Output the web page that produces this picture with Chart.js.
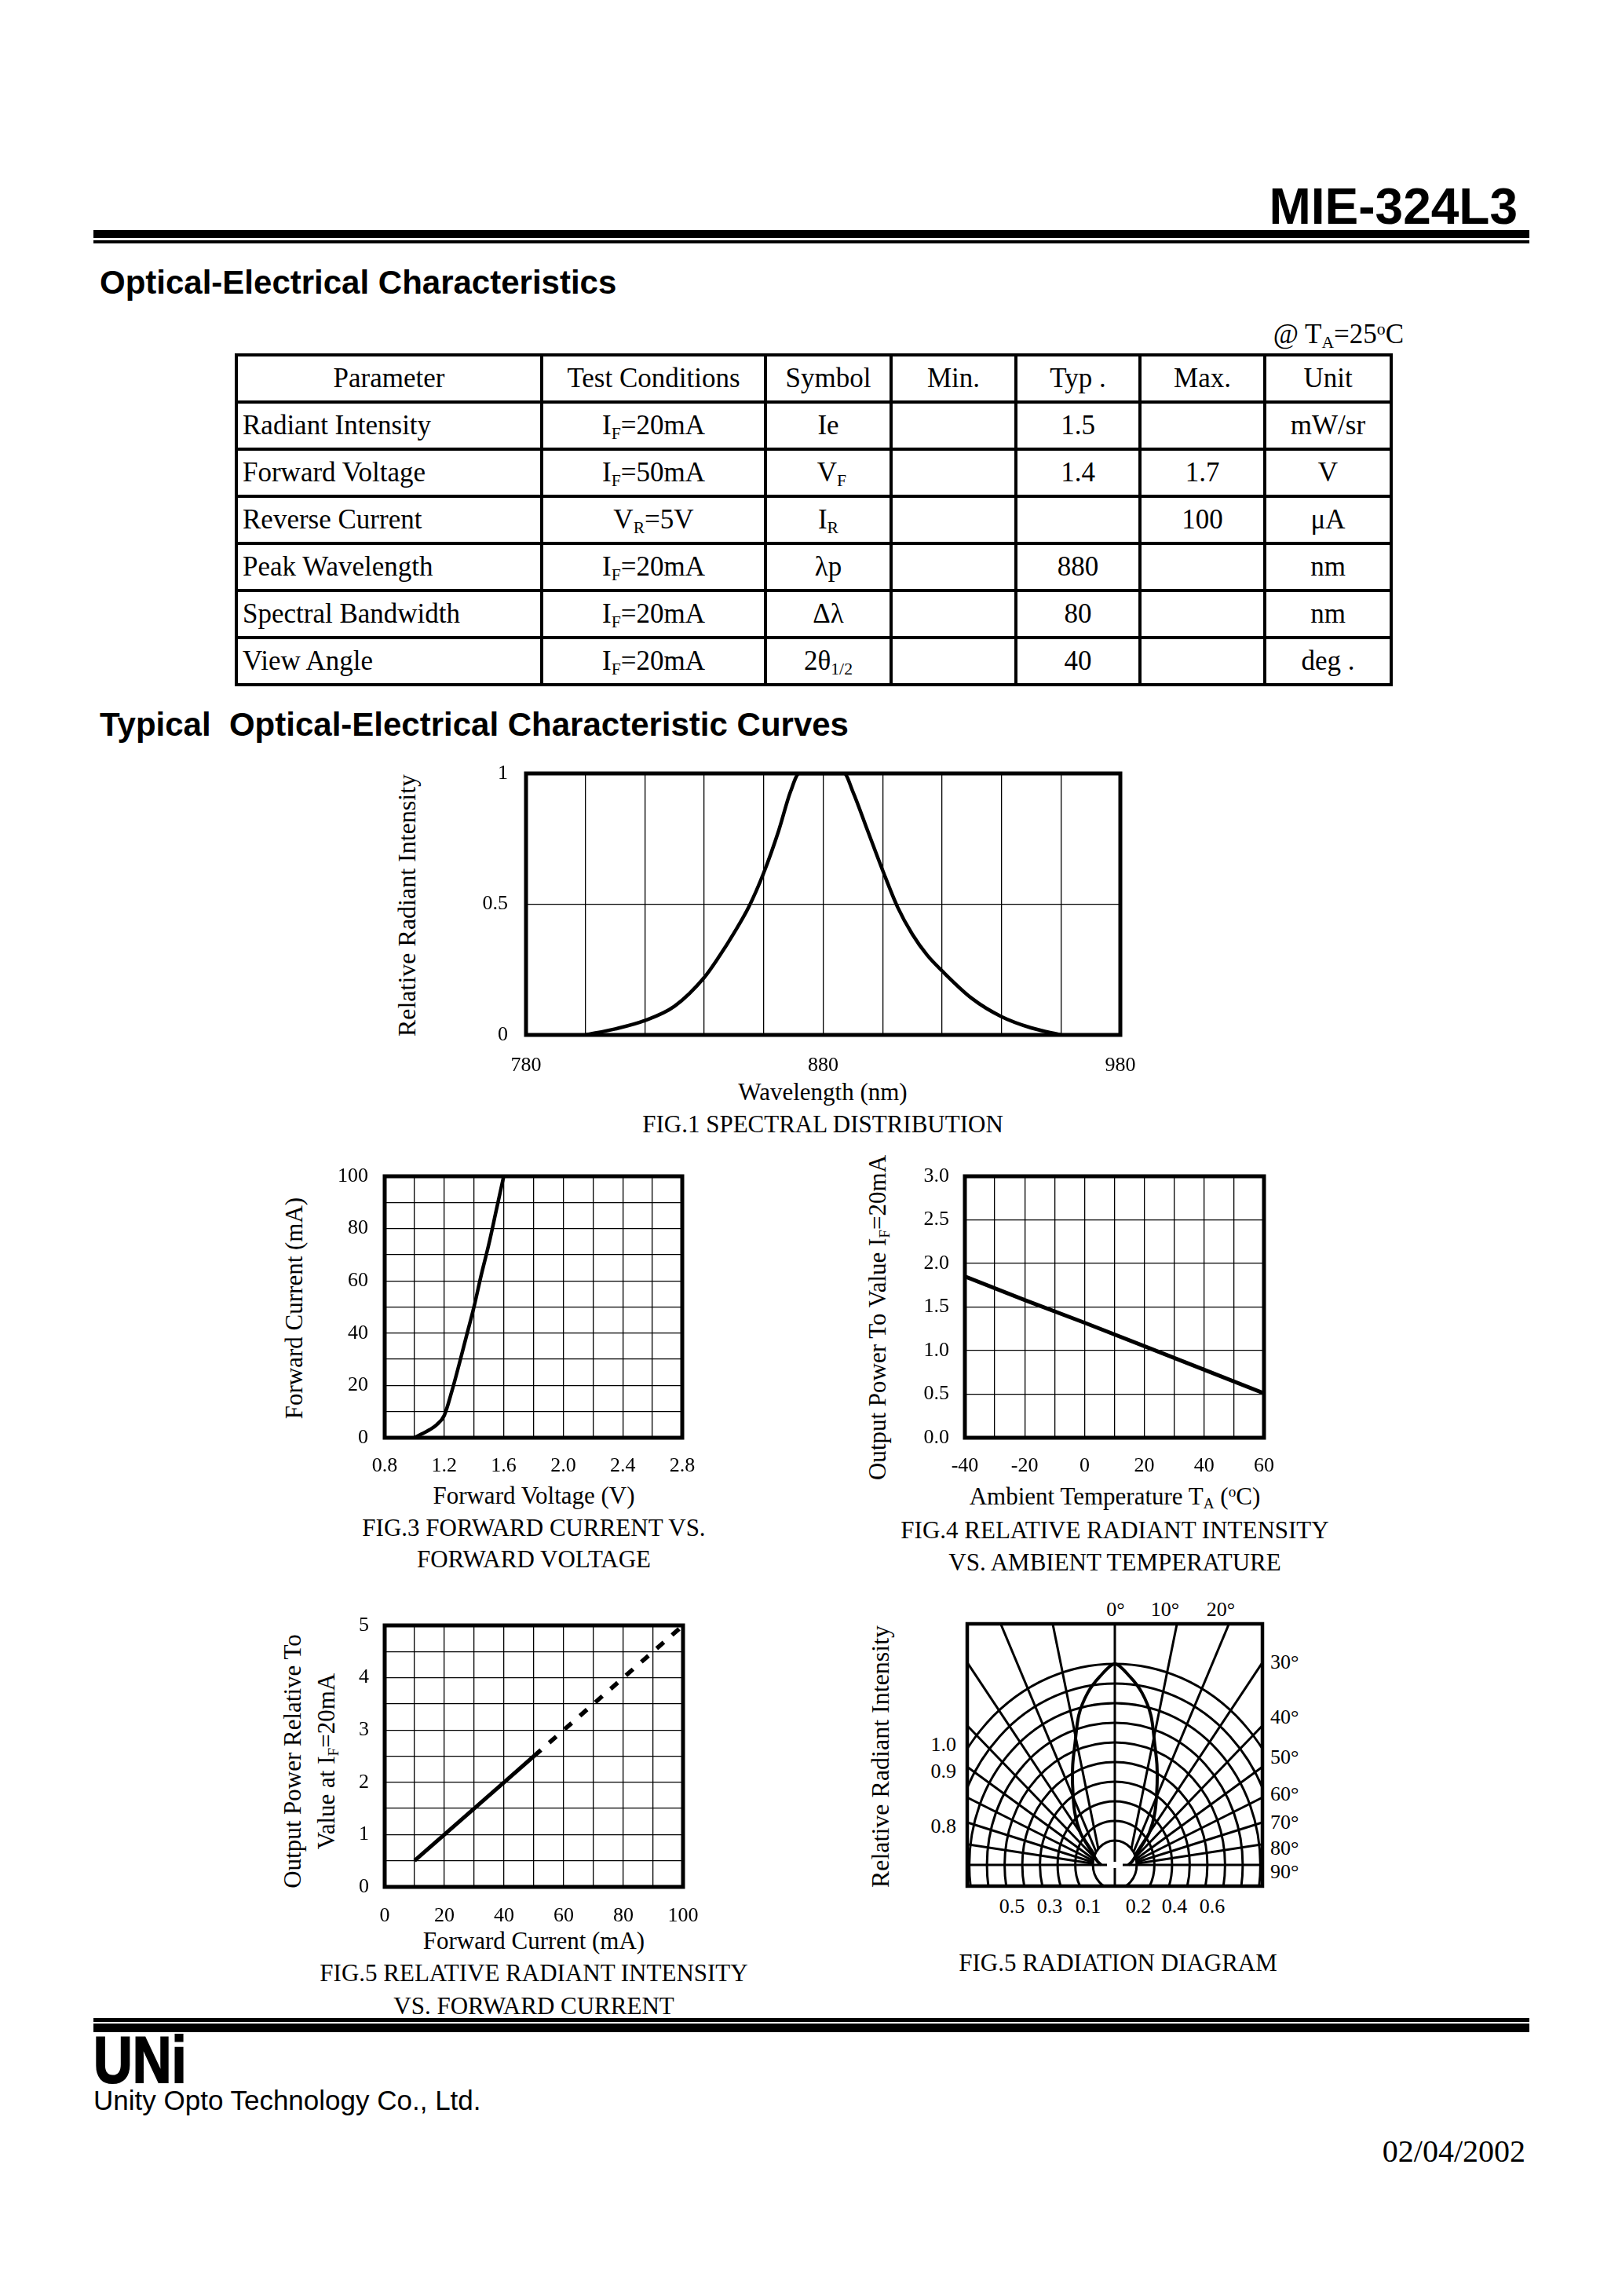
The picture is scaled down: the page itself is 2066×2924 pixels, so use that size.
<!DOCTYPE html>
<html>
<head>
<meta charset="utf-8">
<script src="https://cdn.jsdelivr.net/npm/chart.js@4.4.1/dist/chart.umd.min.js"></script>
<style>
html, body { margin: 0; padding: 0; background: #fff; }
#page { position: relative; width: 2066px; height: 2924px; overflow: hidden; background: #fff; color: #000; }
.abs { position: absolute; white-space: nowrap; line-height: 1; }
.serif { font-family: "Liberation Serif", "Times New Roman", serif; }
.sans { font-family: "Liberation Sans", Arial, sans-serif; }
.c { transform: translate(-50%, -50%); }
.rot { transform: translate(-50%, -50%) rotate(-90deg); }
.lft { transform: translate(0, -50%); }
.rgt { transform: translate(-100%, -50%); }
.sb { font-size: 0.62em; position: relative; top: 0.28em; }
.sp { font-size: 0.62em; position: relative; top: -0.5em; }
.rule { position: absolute; background: #000; }
canvas { position: absolute; }
table { position: absolute; border-collapse: collapse; table-layout: fixed;
        font-family: "Liberation Serif", "Times New Roman", serif; font-size: 35px; }
tr { height: 60px; }
td { border: 4px solid #000; padding: 0 6px; text-align: center; white-space: nowrap; overflow: hidden; }
td.p { text-align: left; }
.f31 { font-size: 31px; }
.f32 { font-size: 32px; }
.f26 { font-size: 26px; }
</style>
</head>
<body>
<div id="page">

  <!-- header -->
  <div class="abs sans" style="right:133px;top:231px;font-size:64px;font-weight:bold;">MIE-324L3</div>
  <div class="rule" style="left:119px;top:293px;width:1829px;height:10px;"></div>
  <div class="rule" style="left:119px;top:306px;width:1829px;height:4px;"></div>

  <div class="abs sans" style="left:127px;top:339px;font-size:42px;font-weight:bold;">Optical-Electrical Characteristics</div>
  <div class="abs serif" style="right:278px;top:408px;font-size:35px;">@ T<span class="sb">A</span>=25<span class="sp">o</span>C</div>

  <table style="left:299px;top:450px;width:1471px;">
    <colgroup>
      <col style="width:389px"><col style="width:285px"><col style="width:160px"><col style="width:159px">
      <col style="width:158px"><col style="width:159px"><col style="width:161px">
    </colgroup>
    <tr><td>Parameter</td><td>Test Conditions</td><td>Symbol</td><td>Min.</td><td>Typ .</td><td>Max.</td><td>Unit</td></tr>
    <tr><td class="p">Radiant Intensity</td><td>I<span class="sb">F</span>=20mA</td><td>Ie</td><td></td><td>1.5</td><td></td><td>mW/sr</td></tr>
    <tr><td class="p">Forward Voltage</td><td>I<span class="sb">F</span>=50mA</td><td>&nbsp;V<span class="sb">F</span></td><td></td><td>1.4</td><td>1.7</td><td>V</td></tr>
    <tr><td class="p">Reverse Current</td><td>V<span class="sb">R</span>=5V</td><td>I<span class="sb">R</span></td><td></td><td></td><td>100</td><td>&mu;A</td></tr>
    <tr><td class="p">Peak Wavelength</td><td>I<span class="sb">F</span>=20mA</td><td>&lambda;p</td><td></td><td>880</td><td></td><td>nm</td></tr>
    <tr><td class="p">Spectral Bandwidth</td><td>I<span class="sb">F</span>=20mA</td><td>&Delta;&lambda;</td><td></td><td>80</td><td></td><td>nm</td></tr>
    <tr><td class="p">View Angle</td><td>I<span class="sb">F</span>=20mA</td><td>2&theta;<span class="sb">1/2</span></td><td></td><td>40</td><td></td><td>deg .</td></tr>
  </table>

  <div class="abs sans" style="left:127px;top:902px;font-size:42px;font-weight:bold;">Typical&nbsp; Optical-Electrical Characteristic Curves</div>

  <!-- FIG.1 texts -->
  <div class="abs serif f32 rot" style="left:518px;top:1153px;">Relative Radiant Intensity</div>
  <div class="abs serif f31 c" style="left:1048px;top:1390px;">Wavelength (nm)</div>
  <div class="abs serif f31 c" style="left:1048px;top:1431px;">FIG.1 SPECTRAL DISTRIBUTION</div>

  <!-- FIG.3 texts -->
  <div class="abs serif f31 rot" style="left:374px;top:1666px;">Forward Current (mA)</div>
  <div class="abs serif f31 c" style="left:680px;top:1904px;">Forward Voltage (V)</div>
  <div class="abs serif f31 c" style="left:680px;top:1945px;">FIG.3 FORWARD CURRENT VS.</div>
  <div class="abs serif f31 c" style="left:680px;top:1985px;">FORWARD VOLTAGE</div>

  <!-- FIG.4 texts -->
  <div class="abs serif f31 rot" style="left:1117px;top:1678px;">Output Power To Value I<span class="sb">F</span>=20mA</div>
  <div class="abs serif f31 c" style="left:1420px;top:1905px;">Ambient Temperature T<span class="sb">A</span> (<span class="sp">o</span>C)</div>
  <div class="abs serif f31 c" style="left:1420px;top:1948px;">FIG.4 RELATIVE RADIANT INTENSITY</div>
  <div class="abs serif f31 c" style="left:1420px;top:1989px;">VS. AMBIENT TEMPERATURE</div>

  <!-- FIG.5 texts -->
  <div class="abs serif f31 rot" style="left:372px;top:2243px;">Output Power Relative To</div>
  <div class="abs serif f31 rot" style="left:415px;top:2243px;">Value at I<span class="sb">F</span>=20mA</div>
  <div class="abs serif f31 c" style="left:680px;top:2471px;">Forward Current (mA)</div>
  <div class="abs serif f31 c" style="left:680px;top:2512px;">FIG.5 RELATIVE RADIANT INTENSITY</div>
  <div class="abs serif f31 c" style="left:680px;top:2554px;">VS. FORWARD CURRENT</div>

  <!-- radiation diagram texts -->
  <div class="abs serif f32 rot" style="left:1121px;top:2237px;">Relative Radiant Intensity</div>
  <div class="abs serif f26 c" style="left:1421px;top:2050px;">0°</div>
  <div class="abs serif f26 c" style="left:1484px;top:2050px;">10°</div>
  <div class="abs serif f26 c" style="left:1555px;top:2050px;">20°</div>
  <div class="abs serif f26 lft" style="left:1618px;top:2117px;">30°</div>
  <div class="abs serif f26 lft" style="left:1618px;top:2187px;">40°</div>
  <div class="abs serif f26 lft" style="left:1618px;top:2238px;">50°</div>
  <div class="abs serif f26 lft" style="left:1618px;top:2285px;">60°</div>
  <div class="abs serif f26 lft" style="left:1618px;top:2321px;">70°</div>
  <div class="abs serif f26 lft" style="left:1618px;top:2354px;">80°</div>
  <div class="abs serif f26 lft" style="left:1618px;top:2384px;">90°</div>
  <div class="abs serif f26 rgt" style="left:1218px;top:2222px;">1.0</div>
  <div class="abs serif f26 rgt" style="left:1218px;top:2256px;">0.9</div>
  <div class="abs serif f26 rgt" style="left:1218px;top:2326px;">0.8</div>
  <div class="abs serif f26 c" style="left:1289px;top:2428px;">0.5</div>
  <div class="abs serif f26 c" style="left:1337px;top:2428px;">0.3</div>
  <div class="abs serif f26 c" style="left:1386px;top:2428px;">0.1</div>
  <div class="abs serif f26 c" style="left:1450px;top:2428px;">0.2</div>
  <div class="abs serif f26 c" style="left:1496px;top:2428px;">0.4</div>
  <div class="abs serif f26 c" style="left:1544px;top:2428px;">0.6</div>
  <div class="abs serif f31 c" style="left:1424px;top:2499px;">FIG.5 RADIATION DIAGRAM</div>

  <!-- footer -->
  <div class="rule" style="left:119px;top:2570px;width:1829px;height:5px;"></div>
  <div class="rule" style="left:119px;top:2577px;width:1829px;height:11px;"></div>
  <div class="abs sans" style="left:119px;top:2593px;font-size:84px;line-height:60px;font-weight:bold;transform:scaleX(0.82);transform-origin:left top;-webkit-text-stroke:2px #000;">UNi</div>
  <div class="abs sans" style="left:119px;top:2657px;font-size:35px;">Unity Opto Technology Co., Ltd.</div>
  <div class="abs serif" style="right:123px;top:2720px;font-size:40px;">02/04/2002</div>
</div>

<script>
// FIG.1 spectral distribution
const wavelength = [800, 810, 820, 830, 840, 845, 850, 855, 860, 865, 869, 872, 880, 887, 890, 895, 900, 905, 910, 915, 920, 930, 940, 950, 960];
const spectralIntensity = [0, 0.023, 0.055, 0.11, 0.22, 0.3, 0.39, 0.49, 0.62, 0.78, 0.93, 1, 1, 1, 0.93, 0.78, 0.63, 0.49, 0.385, 0.305, 0.245, 0.14, 0.07, 0.027, 0];

// FIG.3 forward current vs forward voltage
const forwardVoltage = [1.0, 1.05, 1.1, 1.15, 1.2, 1.25, 1.3, 1.35, 1.4, 1.45, 1.5, 1.55, 1.6];
const forwardCurrent = [0, 1.5, 3, 5, 8.5, 17.5, 28, 39, 50, 62.5, 74, 87, 100];

// FIG.4 relative intensity vs ambient temperature
const ambientTemp = [-40, -20, 0, 20, 40, 60];
const outputVsTemp = [1.85, 1.58, 1.32, 1.05, 0.78, 0.51];

// FIG.5 relative intensity vs forward current (solid part, dashed part)
const currentSolid = [10, 20, 30, 40, 50];
const outputSolid = [0.5, 1.0, 1.5, 2.0, 2.5];
const currentDashed = [50, 60, 70, 80, 90, 100];
const outputDashed = [2.5, 3.0, 3.5, 4.0, 4.5, 5.0];

// radiation diagram
const radAngles = [0, 5, 10, 15, 20, 25, 30, 40, 50, 60, 70, 80, 90];
const radIntensity = [1.0, 0.94, 0.865, 0.765, 0.635, 0.54, 0.455, 0.33, 0.23, 0.14, 0.1, 0.075, 0.053];
const arcLevels = [0.1, 0.2, 0.3, 0.4, 0.5, 0.6, 0.7, 0.8, 0.9, 1.0];
const spokeAngles = [10, 20, 30, 40, 50, 60, 70, 80];

const SERIF = '"Liberation Serif", "Times New Roman", serif';
const ARC_OFFSET = 0.024;     // small offset of the drawn rings
const SPOKE_OFFSET = 0.075;   // spokes start a little beside the centre
const SPOKE_STRETCH = 1.278;  // spokes fan out a bit wider than the rings

const pts = (xs, ys) => xs.map((v, i) => ({ x: v, y: ys[i] }));

function placeCanvas(left, top, w, h) {
  const c = document.createElement('canvas');
  c.width = w; c.height = h;
  c.style.left = left + 'px'; c.style.top = top + 'px';
  c.style.width = w + 'px'; c.style.height = h + 'px';
  document.getElementById('page').appendChild(c);
  return c.getContext('2d');
}

// heavy box round the plot area
const framePlugin = {
  id: 'frame',
  afterDatasetsDraw(chart, args, opts) {
    const a = chart.chartArea, ctx = chart.ctx;
    ctx.save();
    ctx.strokeStyle = '#000';
    ctx.lineWidth = opts.width || 5;
    ctx.strokeRect(a.left, a.top, a.right - a.left, a.bottom - a.top);
    ctx.restore();
  }
};

function gridChart(box, cfg) {
  // generous top/right padding so the tick labels never push the plot area
  const L = 110, T = 50, R = 60, B = 70;
  const ctx = placeCanvas(box.left - L, box.top - T, box.width + L + R, box.height + T + B);
  const axis = (a, size, isX) => ({
    type: 'linear', min: a.min, max: a.max,
    afterFit: s => { if (isX) s.height = size; else s.width = size; },
    ticks: { stepSize: a.step, autoSkip: false, maxRotation: 0, padding: a.pad,
             color: '#000', font: { family: SERIF, size: 26 }, callback: a.cb },
    grid: { color: '#000', lineWidth: 1.3, drawTicks: false },
    border: { display: false }
  });
  return new Chart(ctx, {
    type: 'scatter',
    data: { datasets: cfg.datasets },
    options: {
      responsive: false, animation: false, events: [],
      layout: { padding: { left: 0, top: T, right: R, bottom: 0 } },
      plugins: { legend: { display: false }, tooltip: { enabled: false }, frame: { width: 5 } },
      scales: { x: axis(cfg.x, B, true), y: axis(cfg.y, L, false) }
    },
    plugins: [framePlugin]
  });
}

const lineStyle = { showLine: true, pointRadius: 0, borderColor: '#000', backgroundColor: '#000', fill: false };

// FIG.1
gridChart({ left: 670, top: 985, width: 757, height: 333 }, {
  datasets: [{ ...lineStyle, data: pts(wavelength, spectralIntensity), borderWidth: 4.5, cubicInterpolationMode: 'monotone' }],
  x: { min: 780, max: 980, step: 20, pad: 24, cb: (v, i) => (i % 5 === 0 ? String(v) : '') },
  y: { min: 0, max: 1, step: 0.5, pad: 23, cb: v => String(v) }
});

// FIG.3
gridChart({ left: 490, top: 1498, width: 379, height: 333 }, {
  datasets: [{ ...lineStyle, data: pts(forwardVoltage, forwardCurrent), borderWidth: 4.5, cubicInterpolationMode: 'monotone' }],
  x: { min: 0.8, max: 2.8, step: 0.2, pad: 21, cb: (v, i) => (i % 2 === 0 ? v.toFixed(1) : '') },
  y: { min: 0, max: 100, step: 10, pad: 21, cb: (v, i) => (i % 2 === 0 ? String(v) : '') }
});

// FIG.4
gridChart({ left: 1229, top: 1498, width: 381, height: 333 }, {
  datasets: [{ ...lineStyle, data: pts(ambientTemp, outputVsTemp), borderWidth: 5 }],
  x: { min: -40, max: 60, step: 10, pad: 21, cb: (v, i) => (i % 2 === 0 ? String(v) : '') },
  y: { min: 0, max: 3, step: 0.5, pad: 20, cb: v => v.toFixed(1) }
});

// FIG.5 forward current
gridChart({ left: 490, top: 2070, width: 380, height: 333 }, {
  datasets: [
    { ...lineStyle, data: pts(currentSolid, outputSolid), borderWidth: 5 },
    { ...lineStyle, data: pts(currentDashed, outputDashed), borderWidth: 5.5, borderDash: [12, 14] }
  ],
  x: { min: 0, max: 100, step: 10, pad: 22, cb: (v, i) => (i % 2 === 0 ? String(v) : '') },
  y: { min: 0, max: 5, step: 0.5, pad: 20, cb: (v, i) => (i % 2 === 0 ? String(v) : '') }
});

// radiation diagram: polar grid drawn on the chart's own scales
const radGrid = {
  id: 'radGrid',
  beforeDatasetsDraw(chart) {
    const { ctx, chartArea: a, scales: { x, y } } = chart;
    const cx = x.getPixelForValue(0), cy = y.getPixelForValue(0);
    const ux = x.getPixelForValue(1) - cx, uy = cy - y.getPixelForValue(1);
    ctx.save();
    ctx.beginPath();
    ctx.rect(a.left, a.top, a.right - a.left, a.bottom - a.top);
    ctx.clip();
    ctx.strokeStyle = '#000';
    ctx.lineWidth = 3;
    spokeAngles.forEach(deg => {
      const t = deg * Math.PI / 180;
      [-1, 1].forEach(side => {
        const x0 = cx + side * SPOKE_OFFSET * ux;
        ctx.beginPath();
        ctx.moveTo(x0, cy);
        ctx.lineTo(x0 + side * SPOKE_STRETCH * Math.sin(t) * ux * 3, cy - Math.cos(t) * uy * 3);
        ctx.stroke();
      });
    });
    const r0 = ARC_OFFSET + arcLevels[0];
    ctx.beginPath();
    ctx.ellipse(cx, cy, r0 * ux, r0 * uy, 0, 0, Math.PI * 2);
    ctx.fillStyle = '#fff';
    ctx.fill();
    arcLevels.forEach(l => {
      const r = ARC_OFFSET + l;
      ctx.beginPath();
      ctx.ellipse(cx, cy, r * ux, r * uy, 0, 0, Math.PI * 2);
      ctx.stroke();
    });
    ctx.beginPath();
    ctx.moveTo(a.left, cy); ctx.lineTo(cx - 10, cy);
    ctx.moveTo(cx + 10, cy); ctx.lineTo(a.right, cy);
    ctx.moveTo(cx, a.top); ctx.lineTo(cx, cy - 4);
    ctx.moveTo(cx, cy + 4); ctx.lineTo(cx, a.bottom);
    ctx.stroke();
    ctx.restore();
  }
};

const lobe = [];
for (let i = radAngles.length - 1; i > 0; i--) {
  const t = -radAngles[i] * Math.PI / 180, r = ARC_OFFSET + radIntensity[i];
  lobe.push({ x: r * Math.sin(t), y: r * Math.cos(t) });
}
radAngles.forEach((deg, i) => {
  const t = deg * Math.PI / 180, r = ARC_OFFSET + radIntensity[i];
  lobe.push({ x: r * Math.sin(t), y: r * Math.cos(t) });
});

new Chart(placeCanvas(1222, 2058, 396, 354), {
  type: 'scatter',
  data: { datasets: [{ ...lineStyle, data: lobe, borderWidth: 4, tension: 0.3 }] },
  options: {
    responsive: false, animation: false, events: [],
    layout: { padding: 10 },
    plugins: { legend: { display: false }, tooltip: { enabled: false }, frame: { width: 4.5 } },
    scales: {
      x: { type: 'linear', display: false, min: -0.8356, max: 0.8356 },
      y: { type: 'linear', display: false, min: -0.108, max: 1.228 }
    }
  },
  plugins: [radGrid, framePlugin]
});
</script>
</body>
</html>
